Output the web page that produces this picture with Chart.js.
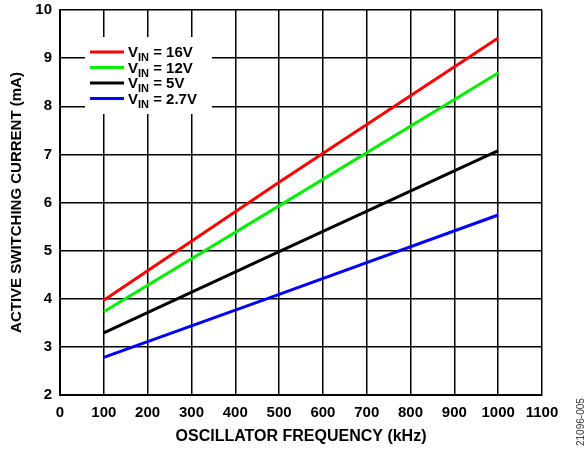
<!DOCTYPE html>
<html>
<head>
<meta charset="utf-8">
<script src="https://cdn.jsdelivr.net/npm/chart.js@4/dist/chart.umd.min.js"></script>
<style>
    html, body { margin: 0; padding: 0; background: #fff; }
    #wrap { position: relative; width: 587px; height: 449px; }
    #note { position: absolute; left: 576px; top: 446px; font: 10px 'Liberation Sans', Arial, sans-serif; line-height: 10px; color: #333;
            transform: rotate(-90deg); transform-origin: left top; white-space: nowrap; }
</style>
</head>
<body>
<div id="wrap">
    <canvas id="currentChart" width="587" height="449"></canvas>
    <div id="note">21096-005</div>
</div>
<script>
// frequency (kHz)
var freqs = [100, 500, 1000];
// active switching current (mA) per supply voltage
var vin16 = [3.97, 6.42, 9.42];
var vin12 = [3.73, 5.93, 8.69];
var vin5 = [3.29, 4.98, 7.08];
var vin27 = [2.78, 4.09, 5.74];

var seriesNames = ['16V', '12V', '5V', '2.7V'];
var seriesColors = ['#ff0000', '#00ee00', '#000000', '#0000ff'];

var FONT = "'Liberation Sans', Arial, sans-serif";

function toPoints(values) {
    return freqs.map(function (f, i) { return { x: f, y: values[i] }; });
}

// legend with the subscript "IN", drawn on a white box over the grid
var vinLegend = {
    id: 'vinLegend',
    afterDatasetsDraw: function (chart) {
        var c = chart.ctx;
        c.save();
        c.fillStyle = '#fff';
        c.fillRect(85, 37, 127, 77);
        chart.data.datasets.forEach(function (ds, i) {
            var y = 52 + i * 15.5;
            c.strokeStyle = ds.borderColor;
            c.lineWidth = 3;
            c.beginPath();
            c.moveTo(90, y);
            c.lineTo(124, y);
            c.stroke();
            c.fillStyle = '#000';
            c.textBaseline = 'alphabetic';
            c.font = 'bold 15px ' + FONT;
            c.fillText('V', 128, y + 5);
            var w = c.measureText('V').width;
            c.font = 'bold 11px ' + FONT;
            c.fillText('IN', 128 + w, y + 9);
            var w2 = c.measureText('IN').width;
            c.font = 'bold 15px ' + FONT;
            c.fillText(' = ' + seriesNames[i], 128 + w + w2, y + 5);
        });
        c.restore();
    }
};

var ctx = document.getElementById('currentChart').getContext('2d');
var chart = new Chart(ctx, {
    type: 'line',
    data: {
        datasets: [
            { label: 'VIN = 16V', data: toPoints(vin16), borderColor: seriesColors[0] },
            { label: 'VIN = 12V', data: toPoints(vin12), borderColor: seriesColors[1] },
            { label: 'VIN = 5V', data: toPoints(vin5), borderColor: seriesColors[2] },
            { label: 'VIN = 2.7V', data: toPoints(vin27), borderColor: seriesColors[3] }
        ]
    },
    options: {
        responsive: false,
        animation: false,
        layout: { padding: { top: 10, right: 45, bottom: 0, left: 0 } },
        elements: {
            line: { borderWidth: 3, tension: 0, borderCapStyle: 'butt' },
            point: { radius: 0 }
        },
        plugins: {
            legend: { display: false },
            tooltip: { enabled: false }
        },
        scales: {
            x: {
                type: 'linear',
                min: 0,
                max: 1100,
                ticks: {
                    stepSize: 100, color: '#000', padding: 9, maxRotation: 0,
                    font: { family: FONT, size: 15, weight: 'bold' },
                    callback: function (value) { return String(value); }
                },
                grid: { color: '#000', lineWidth: 1.5, drawTicks: false },
                border: { color: '#000', width: 2 },
                title: { display: true, text: 'OSCILLATOR FREQUENCY (kHz)', color: '#000', padding: { top: 4, bottom: 3 }, font: { family: FONT, size: 16, weight: 'bold' } },
                afterFit: function (scale) { scale.height = 54; }
            },
            y: {
                min: 2,
                max: 10,
                ticks: {
                    stepSize: 1, color: '#000', padding: 8,
                    font: { family: FONT, size: 15, weight: 'bold' },
                    callback: function (value) { return String(value); }
                },
                grid: { color: '#000', lineWidth: 1.5, drawTicks: false },
                border: { color: '#000', width: 2 },
                title: { display: true, text: 'ACTIVE SWITCHING CURRENT (mA)', color: '#000', padding: { top: 8, bottom: 4 }, font: { family: FONT, size: 15, weight: 'bold' } },
                afterFit: function (scale) {
                    scale.width = 60;
                    scale.paddingTop = 0;
                    scale.paddingBottom = 0;
                }
            }
        }
    },
    plugins: [vinLegend]
});
</script>
</body>
</html>
